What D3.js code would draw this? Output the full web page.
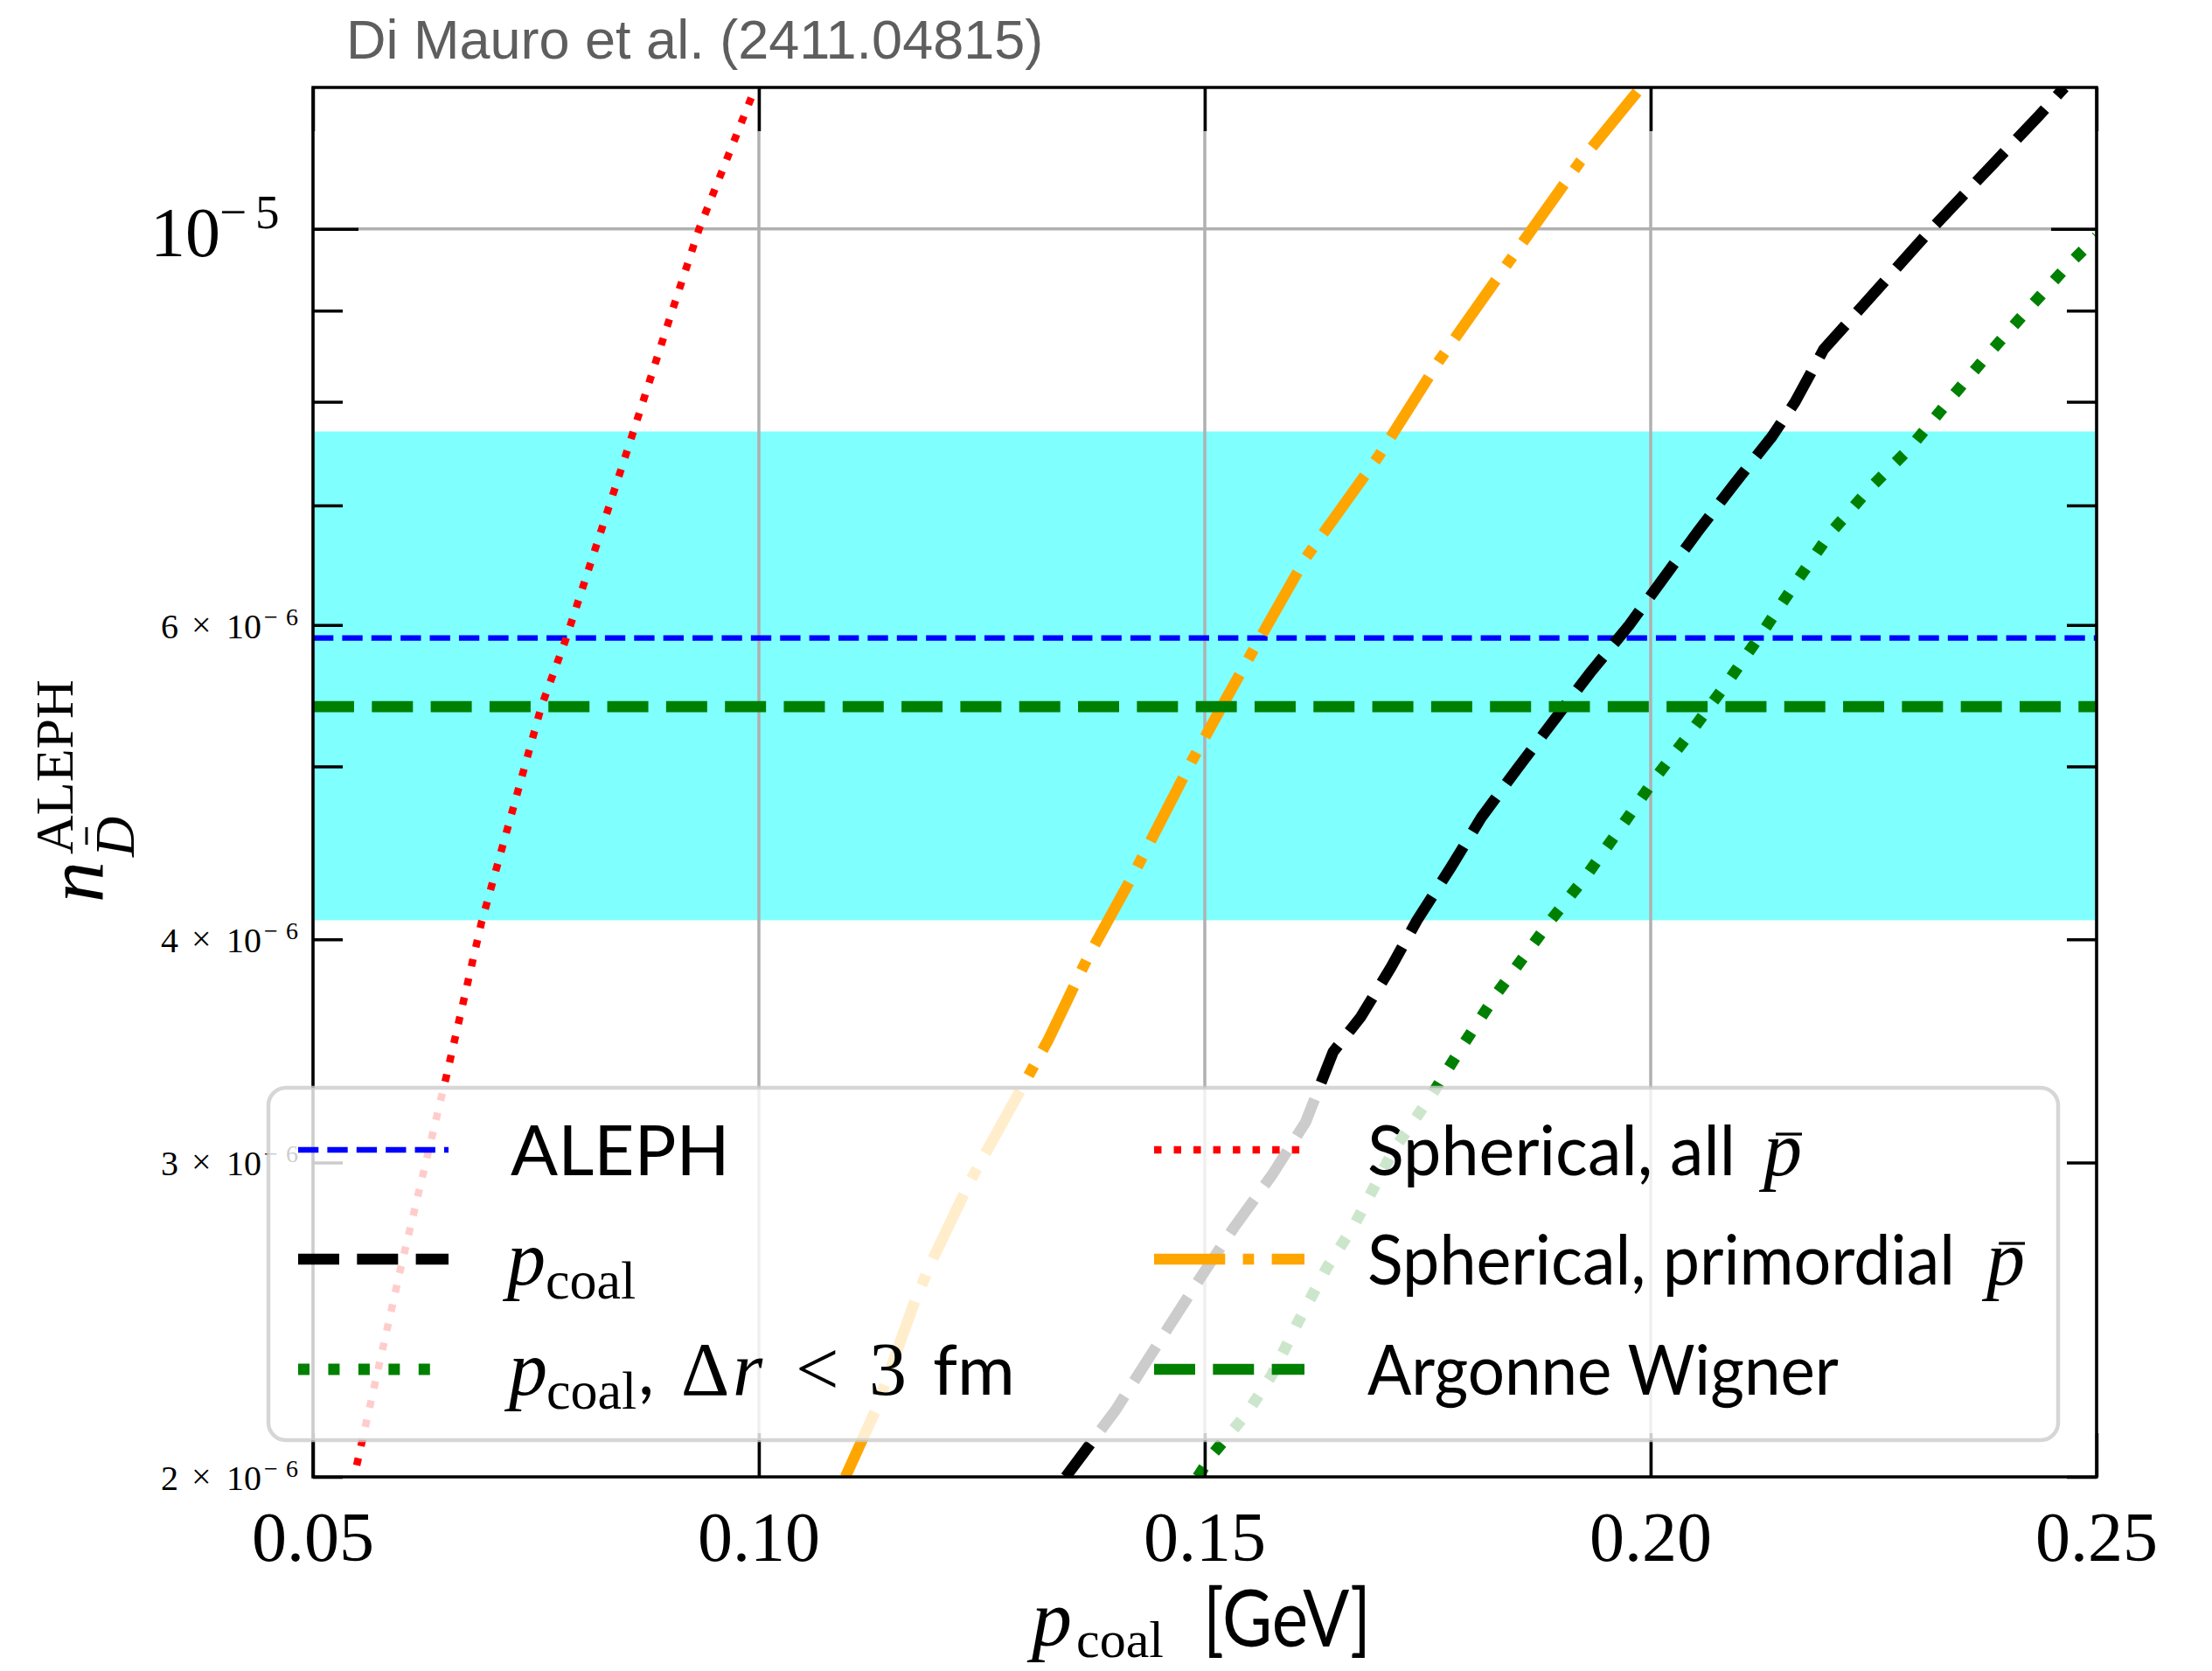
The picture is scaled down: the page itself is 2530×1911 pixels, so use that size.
<!DOCTYPE html>
<html>
<head>
<meta charset="utf-8">
<script src="https://cdn.jsdelivr.net/npm/d3@7"></script>
<style>
  html, body { margin: 0; padding: 0; background: #ffffff; }
  svg { display: block; }
</style>
</head>
<body>
<script>
// ---------------- DATA ----------------
const xTicks = [0.05, 0.10, 0.15, 0.20, 0.25];
const xTickLabels = ["0.05", "0.10", "0.15", "0.20", "0.25"];
const yMajorTicks = [1e-5];
const yMinorTicks = [2e-6, 3e-6, 4e-6, 5e-6, 6e-6, 7e-6, 8e-6, 9e-6];
const yMinorLabelValues = [2e-6, 3e-6, 4e-6, 6e-6];
const yMinorLabelMantissa = ["2", "3", "4", "6"];

const alephValue = 5.9e-6;
const alephError = 1.8e-6;
const argonneValue = 5.4e-6;

// Spherical, all pbar (red dotted)
const redX = [0.0549, 0.0600, 0.0650, 0.0679, 0.0689, 0.0756, 0.0784, 0.0860, 0.0900, 0.0933, 0.0996];
const redY = [2.03e-6, 2.64e-6, 3.36e-6, 3.89e-6, 4.09e-6, 5.40e-6, 5.90e-6, 7.72e-6, 8.91e-6, 1.00e-5, 1.20e-5];

// Spherical, primordial pbar (orange dash-dot)
const orangeX = [0.1097, 0.1131, 0.1175, 0.1196, 0.1237, 0.1324, 0.1369, 0.1420, 0.1485, 0.1519, 0.1562, 0.1613, 0.1695, 0.1763, 0.1842, 0.1920, 0.1989];
const orangeY = [2.00e-6, 2.18e-6, 2.51e-6, 2.655e-6, 2.93e-6, 3.51e-6, 3.91e-6, 4.35e-6, 5.03e-6, 5.40e-6, 5.90e-6, 6.54e-6, 7.46e-6, 8.44e-6, 9.60e-6, 1.089e-5, 1.20e-5];

// p_coal (black dashed)
const blackX = [0.1344, 0.1400, 0.1458, 0.1496, 0.1533, 0.1575, 0.1613, 0.1644, 0.1675, 0.1709, 0.1738, 0.1776, 0.1810, 0.1851, 0.1892, 0.1932, 0.1976, 0.2014, 0.2054, 0.2094, 0.2136, 0.2162, 0.2194, 0.2315, 0.2436, 0.2464];
const blackY = [2.00e-6, 2.18e-6, 2.42e-6, 2.59e-6, 2.76e-6, 2.95e-6, 3.16e-6, 3.46e-6, 3.62e-6, 3.86e-6, 4.10e-6, 4.39e-6, 4.68e-6, 4.99e-6, 5.31e-6, 5.64e-6, 6.00e-6, 6.37e-6, 6.78e-6, 7.20e-6, 7.65e-6, 8.00e-6, 8.56e-6, 1.00e-5, 1.158e-5, 1.20e-5];

// p_coal, Delta r < 3 fm (green dotted)
const greenX = [0.1492, 0.1509, 0.1547, 0.1575, 0.1606, 0.1637, 0.1668, 0.1712, 0.1754, 0.1791, 0.1829, 0.1888, 0.1929, 0.1969, 0.2007, 0.2048, 0.2087, 0.2126, 0.2164, 0.2201, 0.2245, 0.2291, 0.2335, 0.2378, 0.2422, 0.2467, 0.2500];
const greenY = [2.00e-6, 2.06e-6, 2.17e-6, 2.28e-6, 2.45e-6, 2.62e-6, 2.77e-6, 3.05e-6, 3.27e-6, 3.50e-6, 3.74e-6, 4.10e-6, 4.35e-6, 4.64e-6, 4.94e-6, 5.25e-6, 5.58e-6, 5.95e-6, 6.35e-6, 6.75e-6, 7.15e-6, 7.54e-6, 8.02e-6, 8.50e-6, 9.00e-6, 9.53e-6, 9.90e-6];

// ---------------- LAYOUT ----------------
const W = 2530, H = 1911;
const L = 358, R = 2398, T = 100, B = 1689;
const x = d3.scaleLinear().domain([0.05, 0.25]).range([L, R]);
const y = d3.scaleLog().domain([2e-6, 1.2e-5]).range([B, T]);

const SERIF = "'Liberation Serif', 'DejaVu Serif', serif";
const SANS = "Lato, 'Open Sans', 'Liberation Sans', sans-serif";

const svg = d3.select("body").append("svg").attr("width", W).attr("height", H);
svg.append("rect").attr("width", W).attr("height", H).attr("fill", "#ffffff");

svg.append("defs").append("clipPath").attr("id", "plotclip")
  .append("rect").attr("x", L).attr("y", T).attr("width", R - L).attr("height", B - T);

// Title
svg.append("text").attr("x", 396).attr("y", 67)
  .attr("font-family", "'Liberation Sans', Arial, sans-serif").attr("font-size", 63)
  .attr("fill", "#5e5e5e").text("Di Mauro et al. (2411.04815)");

// ALEPH band
svg.append("rect")
  .attr("x", x(0.05)).attr("width", x(0.25) - x(0.05))
  .attr("y", y(alephValue + alephError))
  .attr("height", y(alephValue - alephError) - y(alephValue + alephError))
  .attr("fill", "#80ffff");

// Grid
const grid = svg.append("g");
xTicks.forEach(v => {
  grid.append("line").attr("x1", x(v)).attr("x2", x(v)).attr("y1", T).attr("y2", B)
    .attr("stroke", "#b0b0b0").attr("stroke-width", 3.5);
});
yMajorTicks.forEach(v => {
  grid.append("line").attr("x1", L).attr("x2", R).attr("y1", y(v)).attr("y2", y(v))
    .attr("stroke", "#b0b0b0").attr("stroke-width", 3.5);
});

// Series styles
const LW = 12.7;
const styles = {
  aleph:   {color: "#0000ff", lw: 6.3, dash: [3.7, 1.6]},
  black:   {color: "#000000", lw: LW, dash: [3.7, 1.6]},
  green:   {color: "#008000", lw: 13, dash: [1, 1.65]},
  red:     {color: "#ff0000", lw: 8.5, dash: [1, 1.65]},
  orange:  {color: "#ffa500", lw: LW, dash: [6.4, 1.6, 1, 1.6]},
  argonne: {color: "#008000", lw: LW, dash: [3.7, 1.6]}
};
function dashStr(s) { return s.dash.map(d => (d * s.lw).toFixed(2)).join(","); }
function applyStyle(sel, s) {
  return sel.attr("fill", "none").attr("stroke", s.color).attr("stroke-width", s.lw)
    .attr("stroke-dasharray", dashStr(s)).attr("stroke-linecap", "butt").attr("stroke-linejoin", "round");
}

const lineGen = d3.line().x(d => x(d[0])).y(d => y(d[1]));
const plot = svg.append("g").attr("clip-path", "url(#plotclip)");

applyStyle(plot.append("path").attr("d", lineGen([[0.05, alephValue], [0.25, alephValue]])), styles.aleph);
applyStyle(plot.append("path").attr("d", lineGen(d3.zip(blackX, blackY))), styles.black);
applyStyle(plot.append("path").attr("d", lineGen(d3.zip(greenX, greenY))), styles.green);
applyStyle(plot.append("path").attr("d", lineGen(d3.zip(redX, redY))), styles.red);
applyStyle(plot.append("path").attr("d", lineGen(d3.zip(orangeX, orangeY))), styles.orange);
applyStyle(plot.append("path").attr("d", lineGen([[0.05, argonneValue], [0.25, argonneValue]])), styles.argonne);

// Axes (ticks inward on all sides)
const TW = 3.5;
function styleAxis(g) {
  g.select(".domain").remove();
  g.selectAll(".tick line").attr("stroke", "#000").attr("stroke-width", TW);
  g.selectAll(".tick text").remove();
}
svg.append("g").attr("transform", `translate(0,${B})`)
  .call(d3.axisBottom(x).tickValues(xTicks).tickSizeInner(-50).tickSizeOuter(0)).call(styleAxis);
svg.append("g").attr("transform", `translate(0,${T})`)
  .call(d3.axisTop(x).tickValues(xTicks).tickSizeInner(-50).tickSizeOuter(0)).call(styleAxis);
svg.append("g").attr("transform", `translate(${L},0)`)
  .call(d3.axisLeft(y).tickValues(yMajorTicks).tickSizeInner(-52).tickSizeOuter(0)).call(styleAxis);
svg.append("g").attr("transform", `translate(${L},0)`)
  .call(d3.axisLeft(y).tickValues(yMinorTicks).tickSizeInner(-34).tickSizeOuter(0)).call(styleAxis);
svg.append("g").attr("transform", `translate(${R},0)`)
  .call(d3.axisRight(y).tickValues(yMajorTicks).tickSizeInner(-52).tickSizeOuter(0)).call(styleAxis);
svg.append("g").attr("transform", `translate(${R},0)`)
  .call(d3.axisRight(y).tickValues(yMinorTicks).tickSizeInner(-34).tickSizeOuter(0)).call(styleAxis);

// Spines
svg.append("rect").attr("x", L).attr("y", T).attr("width", R - L).attr("height", B - T)
  .attr("fill", "none").attr("stroke", "#000").attr("stroke-width", 3.5);

// X tick labels
xTicks.forEach((v, i) => {
  svg.append("text").attr("x", x(v)).attr("y", B + 96).attr("text-anchor", "middle")
    .attr("font-family", SERIF).attr("font-size", 80).attr("fill", "#000").text(xTickLabels[i]);
});

// Y major label 10^-5
yMajorTicks.forEach(v => {
  const t = svg.append("text").attr("font-family", SERIF).attr("fill", "#000");
  t.append("tspan").attr("x", 172).attr("y", y(v) + 31).attr("font-size", 80).text("10");
  t.append("tspan").attr("x", 251).attr("y", y(v) - 1).attr("font-size", 55).text("\u2212");
  t.append("tspan").attr("x", 292).attr("y", y(v) - 1).attr("font-size", 55).text("5");
});

// Y minor labels
yMinorLabelValues.forEach((v, i) => {
  const yy = y(v);
  const t = svg.append("text").attr("font-family", SERIF).attr("fill", "#000");
  t.append("tspan").attr("x", 184).attr("y", yy + 15).attr("font-size", 40).text(yMinorLabelMantissa[i]);
  t.append("tspan").attr("x", 219).attr("y", yy + 13).attr("font-size", 40).text("\u00d7");
  t.append("tspan").attr("x", 259).attr("y", yy + 15).attr("font-size", 40).text("10");
  t.append("tspan").attr("x", 302).attr("y", yy).attr("font-size", 28).text("\u2212");
  t.append("tspan").attr("x", 327).attr("y", yy).attr("font-size", 28).text("6");
});

// Y axis label
const yl = svg.append("g").attr("transform", "translate(118,1032) rotate(-90)");
yl.append("text").attr("x", 0).attr("y", 0).attr("font-family", SERIF).attr("font-style", "italic")
  .attr("font-size", 94).attr("fill", "#000").text("n");
yl.append("text").attr("x", 52).attr("y", 35).attr("font-family", SERIF).attr("font-style", "italic")
  .attr("font-size", 64).attr("fill", "#000").text("D");
yl.append("line").attr("x1", 66).attr("x2", 86).attr("y1", -19).attr("y2", -19)
  .attr("stroke", "#000").attr("stroke-width", 3);
yl.append("text").attr("x", 55).attr("y", -35).attr("font-family", SERIF)
  .attr("font-size", 62).attr("fill", "#000").text("ALEPH");

// X axis label
const xl = svg.append("text").attr("fill", "#000");
xl.append("tspan").attr("x", 1180).attr("y", 1882).attr("font-family", SERIF).attr("font-style", "italic")
  .attr("font-size", 92).text("p");
xl.append("tspan").attr("x", 1231).attr("y", 1895).attr("font-family", SERIF)
  .attr("font-size", 60).text("coal");
xl.append("tspan").attr("x", 1376).attr("y", 1883).attr("font-family", SANS)
  .attr("font-size", 92).attr("textLength", 192).attr("lengthAdjust", "spacingAndGlyphs").text("[GeV]");

// ---------------- LEGEND ----------------
const leg = svg.append("g");
leg.append("rect").attr("x", 307).attr("y", 1244).attr("width", 2354 - 307).attr("height", 1647 - 1244)
  .attr("rx", 20).attr("ry", 20)
  .attr("fill", "#ffffff").attr("fill-opacity", 0.8)
  .attr("stroke", "#cccccc").attr("stroke-opacity", 0.8).attr("stroke-width", 4.5);

const rowY = [1315, 1440, 1566];
const col1 = [341, 513], col2 = [1320, 1492];
const handles = [
  {s: styles.aleph, c: col1, r: 0},
  {s: styles.black, c: col1, r: 1},
  {s: styles.green, c: col1, r: 2},
  {s: styles.red, c: col2, r: 0},
  {s: styles.orange, c: col2, r: 1},
  {s: styles.argonne, c: col2, r: 2}
];
handles.forEach(h => {
  applyStyle(leg.append("line").attr("x1", h.c[0]).attr("x2", h.c[1])
    .attr("y1", rowY[h.r]).attr("y2", rowY[h.r]), h.s);
});

const base = rowY.map(v => v + 29);
leg.append("text").attr("x", 584).attr("y", base[0]).attr("font-family", SANS).attr("font-size", 80)
  .attr("fill", "#000").text("ALEPH");

const t2 = leg.append("text").attr("fill", "#000");
t2.append("tspan").attr("x", 580).attr("y", base[1]).attr("font-family", SERIF).attr("font-style", "italic")
  .attr("font-size", 88).text("p");
t2.append("tspan").attr("x", 624).attr("y", base[1] + 16).attr("font-family", SERIF)
  .attr("font-size", 62).text("coal");

const t3 = leg.append("text").attr("fill", "#000");
t3.append("tspan").attr("x", 582).attr("y", base[2]).attr("font-family", SERIF).attr("font-style", "italic")
  .attr("font-size", 88).text("p");
t3.append("tspan").attr("x", 625).attr("y", base[2] + 16).attr("font-family", SERIF)
  .attr("font-size", 62).text("coal");
t3.append("tspan").attr("x", 730).attr("y", base[2]).attr("font-family", SANS)
  .attr("font-size", 80).text(",");
t3.append("tspan").attr("x", 779).attr("y", base[2]).attr("font-family", SERIF)
  .attr("font-size", 86).text("\u0394");
t3.append("tspan").attr("x", 838).attr("y", base[2]).attr("font-family", SERIF).attr("font-style", "italic")
  .attr("font-size", 88).text("r");
t3.append("tspan").attr("x", 910).attr("y", base[2]).attr("font-family", SERIF)
  .attr("font-size", 88).text("<");
t3.append("tspan").attr("x", 994).attr("y", base[2]).attr("font-family", SERIF)
  .attr("font-size", 86).text("3");
t3.append("tspan").attr("x", 1067).attr("y", base[2]).attr("font-family", SANS)
  .attr("font-size", 80).text("fm");

// Col 2 texts with p-bar (single text element each)
function pbarText(txt, yb, len, pX) {
  const t = leg.append("text").attr("fill", "#000");
  t.append("tspan").attr("x", 1564).attr("y", yb).attr("font-family", SANS).attr("font-size", 80)
    .attr("textLength", len).attr("lengthAdjust", "spacingAndGlyphs").text(txt);
  t.append("tspan").attr("x", pX).attr("y", yb).attr("font-family", SERIF)
    .attr("font-style", "italic").attr("font-size", 88).text("p");
  const node = t.node();
  const ext = node.getExtentOfChar(node.getNumberOfChars() - 1);
  leg.append("line").attr("x1", ext.x + ext.width * 0.32).attr("x2", ext.x + ext.width * 1.0)
    .attr("y1", yb - 47).attr("y2", yb - 47).attr("stroke", "#000").attr("stroke-width", 3.2);
}
pbarText("Spherical, all", base[0], 421, 2017);
pbarText("Spherical, primordial", base[1], 672, 2272);
leg.append("text").attr("x", 1564).attr("y", base[2]).attr("font-family", SANS).attr("font-size", 80)
  .attr("textLength", 539).attr("lengthAdjust", "spacingAndGlyphs")
  .attr("fill", "#000").text("Argonne Wigner");
</script>
</body>
</html>
